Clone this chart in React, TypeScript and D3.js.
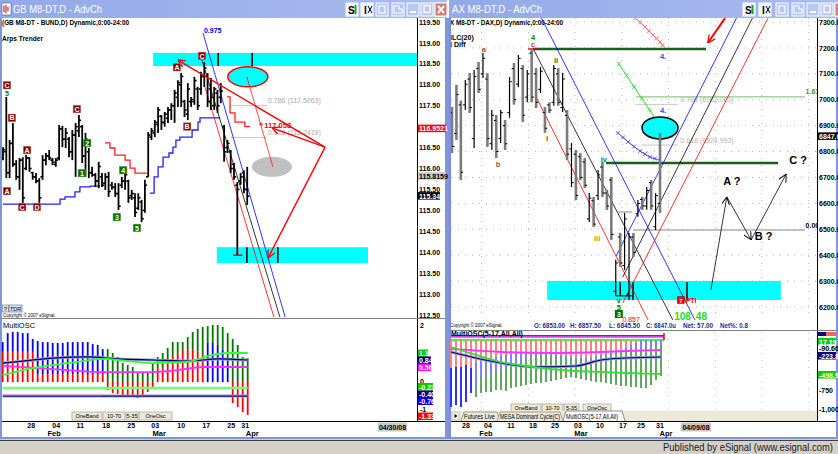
import React from "react";
import * as d3 from "d3";

/* ---------------- data: Bund (left window) ---------------- */
const bundHigh = [116.51,117.71,116.68,117.09,116.2,116.25,116.27,116.32,116.27,115.92,115.89,115.77,116.32,116.37,116.44,116.25,116.25,117.04,117.02,116.97,116.75,116.92,117.09,117.28,117.04,116.85,116.49,116.04,115.89,116.16,115.89,115.89,115.92,115.68,115.65,115.65,115.8,115.89,115.73,115.49,115.41,115.41,115.25,115.73,116.87,116.97,117.16,117.47,117.28,117.35,117.47,117.56,117.88,118.11,118.28,117.64,118.04,117.71,118.19,117.95,118.31,118.54,118.28,118.16,117.95,117.88,118.04,117.04,116.68,116.44,116.13,115.68,115.89,115.96,116.04];
const bundLow = [116.2,115.77,115.77,116.04,115.73,115.49,115.18,115.96,115.92,115.73,115.65,115.18,115.73,116.08,116.2,116.08,116.04,116.2,116.51,116.49,116.27,116.2,115.8,116.75,116.13,115.8,115.77,115.8,115.56,115.53,115.56,115.49,115.32,115.49,115.32,115.01,115.53,115.49,115.18,115.25,114.84,115.01,114.72,114.94,115.8,116.68,116.75,116.85,116.92,117.0,117.09,117.16,117.09,117.47,117.47,117.23,117.16,117.47,117.52,117.4,117.76,117.95,117.47,117.4,117.4,117.33,117.56,116.16,116.37,115.89,115.73,113.93,115.61,115.41,115.13];
const bundOpen = [116.25,116.4,115.9,116.6,116.1,115.8,116.2,116.0,116.25,115.9,115.8,115.7,115.8,116.2,116.3,116.2,116.1,116.25,116.95,116.7,116.7,116.4,116.8,116.9,117.0,116.3,116.4,115.9,115.85,115.7,115.8,115.65,115.8,115.6,115.55,115.4,115.6,115.7,115.7,115.35,115.3,115.05,115.2,115.0,115.8,116.75,116.85,117.05,117.25,117.1,117.2,117.4,117.5,117.7,118.0,117.6,117.3,117.6,117.6,117.9,117.9,118.2,118.2,117.9,117.5,117.8,117.7,117.0,116.5,116.4,116.1,115.6,115.7,115.9,115.5];
const bundClose = [116.45,115.9,116.6,116.1,115.8,116.2,115.3,116.25,116.0,115.8,115.7,115.3,116.2,116.3,116.25,116.15,116.2,116.95,116.7,116.85,116.4,116.8,117.0,117.15,116.3,116.7,115.9,115.85,115.7,116.05,115.6,115.8,115.45,115.55,115.4,115.1,115.7,115.85,115.3,115.4,114.95,115.3,114.8,115.6,116.8,116.9,117.1,117.4,117.1,117.3,117.4,117.5,117.8,118.05,118.2,117.4,117.9,117.65,118.1,117.5,118.2,118.4,117.6,117.7,117.9,117.5,117.85,116.4,116.6,116.0,115.8,115.5,115.8,115.5,115.34];
/* 117.00 is hidden behind the red last-value box in the reference */
const bundTicks = [112.5,113,113.5,114,114.5,115,115.5,116,116.5,117.5,118,118.5,119,119.5];

/* Arps trender steps [barIndex, price] */
const arpsRed1 = [[30.9,116.61],[32.4,116.49],[33.9,116.32],[37,116.2],[38.5,116.01],[40,115.89],[43.6,115.89]];
const arpsRed2 = [[67.9,117.71],[68.8,117.33],[70.3,117.11],[73.3,117.0],[74.8,117.0]];
const arpsBlue1 = [[0,115.15],[17.3,115.27],[18.8,115.32],[21.8,115.44],[23.3,115.56],[26.4,115.58],[29.4,115.58]];
const arpsBlue2 = [[44.5,115.41],[45.8,115.8],[47,116.04],[48.5,116.27],[50.3,116.37],[51.5,116.51],[52.4,116.68],[53.6,116.75],[57.3,116.92],[59.1,117.11],[59.7,117.21],[65.8,117.21]];

/* Elliott / ABC labels on the Bund [barIndex, price, text, kind] */
const bundLabels = [
  [1.2,117.99,"C","r"],[2.7,117.21,"B","r"],[1.2,115.46,"A","r"],[5.8,115.08,"C","r"],[7.3,116.44,"A","r"],
  [10.3,115.08,"D","r"],[22.4,117.42,"C","r"],[25.5,116.61,"2","g"],[23.9,115.89,"1","g"],[34.5,114.84,"3","g"],
  [36.4,115.96,"4","g"],[40.6,114.58,"5","g"],[52.7,118.42,"A","r"],[55.8,117.0,"B","r"],[60.3,118.69,"C","r"],
];
const bundFib = [[117.5063,"0.786 (117.5063)"],[116.7419,"0.618 (116.7419)"]];

/* oscillator (left) */
const lOscTop = [1.39,1.71,1.75,1.75,1.71,1.71,1.5,1.43,1.39,1.39,1.36,1.36,1.36,1.39,1.39,1.39,1.39,1.39,1.32,1.29,1.14,1.14,1.0,0.86,0.64,0.57,0.5,0.32,0.32,0.32,0.64,0.86,1.0,1.18,1.39,1.39,1.39,1.57,1.75,1.86,1.93,1.96,2.0,2.0,1.93,1.71,1.5,1.29,0.86,0.82];
const lOscMid = [1.04,1.04,1.04,1.04,1.04,1.04,1.04,0.25,0.25,0.25,0.25,0.25,0.25,0.25,0.25,0.25,0.25,0.25,0.25,0.25,0.25,0,0,0,0,0,0,0,0,0,0,0.46,0.46,0.68,0.93,1.0,1.11,1.11,1.11,1.04,0.93,1.36,1.36,1.29,1.11,0.86,0,0,0,0];
const lOscBot = [-0.04,-0.04,-0.04,-0.04,-0.04,-0.04,-0.04,-0.04,-0.04,-0.04,-0.04,-0.04,-0.04,-0.04,-0.04,-0.04,-0.04,-0.04,-0.04,-0.04,-0.04,-0.32,-0.43,-0.46,-0.5,-0.54,-0.57,-0.61,-0.5,-0.39,-0.25,-0.04,-0.04,-0.04,-0.04,-0.04,-0.04,-0.04,-0.04,-0.04,-0.04,-0.04,-0.04,-0.04,-0.04,-0.04,-0.79,-0.93,-1.11,-1.21];
const lOscUpperTone = "bbbbbbbbbbbbbbbbbbbbbggggggggggggggggggggggggggggg";
const lOscLowerTone = "rrrrrrrrrrrrrrrrrrrrrrrrrrrrrrrrrrrrrrrrrbbbbbrrrr";
const lOscGreen = [[0,0.21],[4,0.39],[10,0.57],[15,0.68],[20,0.79],[25,0.71],[30,0.64],[37,0.68],[41,0.89],[45,1.0],[49,1.0]];
const lOscNavy = [[0,0.64],[4,0.71],[10,0.82],[17,0.86],[23,0.79],[30,0.75],[37,0.71],[43,0.79],[49,0.75]];
const lOscMagenta = [[0,0.54],[7,0.46],[13,0.39],[20,0.32],[30,0.32],[35,0.39],[40,0.5],[49,0.5]];
const lOscBands = [-0.25, -0.54];

/* ---------------- data: DAX (right window) ---------------- */
const daxHigh = [6972,7057,6997,7076,7103,7115,7146,7180,7103,6960,6941,6960,6922,7088,7142,7173,7134,7115,7200,7122,7126,6972,6990,7134,7122,7103,6960,6833,6806,6794,6775,6640,6625,6729,6760,6652,6702,6382,6486,6563,6486,6486,6613,6625,6663,6690,6640,6872];
const daxLow = [6794,6845,6690,6960,6949,6814,7026,7084,6818,6806,6775,6833,6806,6930,6981,7049,6914,6990,6990,6968,7026,6872,6949,6977,6977,6953,6767,6663,6613,6690,6659,6528,6509,6613,6625,6575,6459,6243,6355,6343,6227,6393,6548,6575,6575,6575,6497,6563];
const daxOpen = [6950,6870,6980,6980,7080,6850,7120,7100,7080,6830,6920,6850,6900,6950,7120,7060,7120,7010,7180,7100,7040,6950,6980,6990,7100,6970,6940,6810,6790,6780,6760,6540,6610,6630,6740,6640,6690,6260,6470,6360,6250,6470,6560,6615,6590,6680,6510,6600];
const daxClose = [6820,7020,6720,7060,6970,7090,7040,7160,6850,6940,6800,6950,6830,7070,7000,7160,6940,7100,7010,6990,7110,6890,6960,7120,6990,7080,6790,6680,6630,6700,6670,6620,6520,6710,6640,6590,6480,6370,6370,6540,6470,6410,6600,6590,6650,6590,6630,6847];
const daxTone = [1,1,1,0,1,0,1,0,1,0,1,0,1,0,1,0,1,0,1,1,0,1,1,0,1,0,1,0,1,1,1,0,1,0,1,1,1,0,1,0,0,1,0,1,0,1,0,1];
const daxTicks = [6200,6300,6400,6500,6600,6700,6800,6900,7000,7100,7200,7300];
const daxGridPos = [6.7,17.3,27.8,38.4,48.9,59.5,70,80.6];

const daxLabels = [
  [7.2,7196,"a","#a0522d"],[10.4,6752,"b","#a0522d"],[18.3,7242,"4","#008000"],[18.3,7215,"c","#c04020"],
  [23.5,7153,"ii","#008000"],[21.5,6852,"i","#008000"],[32.8,6466,"iii","#b0a000"],[34.3,6771,"iv","#008080"],
  [37.7,6227,"v","#008000"],[37.7,6200,"5","#008000"],
];
/* channel lines [i1,p1,i2,p2,color] */
const daxChannels = [
  [20.1,7319,54.9,6150,"#0000ff"],[18.5,7192,49.9,6150,"#000000"],[18.8,7018,44.3,6150,"#ff0000"],
  [37.1,6397,64.4,7319,"#0000ff"],[38.6,6316,68,7319,"#000000"],[38.6,6216,71.4,7315,"#ff0000"],
];
const daxPinkArc = [[41.4,7315],[43.6,7281],[45.4,7250],[47,7223],[48.1,7200]];
const daxBlueArc = [[37.5,6872],[39.8,6837],[42.5,6802],[44.7,6779],[47,6767]];
const daxGreenRay = [[37.7,7138],[48.1,6872]];
const daxPath = [[58.5,6266],[62.1,6625],[67.6,6459],[75.5,6713]];
const daxFib = [[6982.061,"0.786 (6982.061)",41.4],[6824.993,"0.618 (6824.993)",42.7]];

/* oscillator (right) */
const rOscCeil = -92;
const rOscRed = [-461,-447,-447,-421,-461,-382,-355,-355,-329,-316,-303,-289,-276,-263,-263,-250,-250,-237,-250,-250,-263,-276,-289,-303,-316,-329,-329,-329,-316,-303,-289,-276,-263,-250,-224,-197,-158,-131,-92,-92,-92,-92,-92];
const rOscBlue = [-974,-947,-974,-908,-789,-684,-592,-566,-539,-513,-487,-461,-434,-408,-382,-355,-329,-316,-303,-289,-289,-303,-316,-329,-342,-355,-355,-355,-342,-329,-316,-303,-289,-276,-263,-250,-237,-224,-224,-197,-184,-171,-171];
const rOscGreen = [-974,-947,-974,-908,-789,-842,-789,-776,-776,-750,-750,-763,-724,-711,-697,-684,-671,-658,-658,-645,-632,-618,-605,-592,-579,-592,-605,-618,-632,-645,-645,-658,-671,-684,-697,-697,-711,-711,-724,-724,-684,-618,-566];
const rOscNavy = [[0,-250],[10,-395],[17,-447],[25,-434],[30,-355],[35,-329],[42,-316]];
const rOscGreenLine = [[0,-184],[5,-289],[10,-382],[15,-434],[20,-474],[25,-500],[30,-513],[35,-526],[42,-539]];
const rOscMagenta = [[0,-210],[10,-250],[20,-263],[30,-250],[35,-237],[42,-224]];
const rOscBands = [[-39,"#000080"],[-52,"#ff40ff"],[-92,"#40ff40"]];

/* date axes */
const dateLabels = ["28","04","11","18","25","03","10","17","25","31"];
const monthLabels = ["Feb","Mar","Apr"];
const bundDatePos = [5.7,10.7,15.5,20.7,25.7,30.5,35.7,40.7,45.7,48.5];
const bundMonthPos = [10.3,31.3,49.9];
const daxDatePos = [3,7.4,12,16.4,20.8,25.4,29.8,34.4,38,41.8];
const daxMonthPos = [7,26,43];

const FONT = "'Liberation Sans', Arial, sans-serif";

function TitleButtons({ xs }: { xs: number[] }) {
  const kinds = ["S", "I", "w1", "w2", "min", "max", "x"];
  return (
    <g>
      {xs.map((x, k) => {
        const kind = kinds[k];
        const light = kind === "S" || kind === "I";
        return (
          <g key={k}>
            <rect x={x} y={3} width={12} height={13} fill={light ? "#f4f6ff" : "#b7c6f2"} stroke="#ffffff" strokeWidth={1} />
            {kind === "S" && <text x={x + 2} y={13.5} fontFamily={FONT} fontWeight="bold" fontSize={10} fill="#000">S</text>}
            {kind === "S" && <rect x={x + 8.5} y={5} width={2} height={9} fill="#20a020" />}
            {kind === "I" && <text x={x + 3} y={13.5} fontFamily={FONT} fontWeight="bold" fontSize={10} fill="#000">I</text>}
            {kind === "I" && <path d={`M${x + 7},6 l4,7 M${x + 11},6 l-4,7`} stroke="#000" strokeWidth={1} />}
            {kind === "w1" && <rect x={x + 3} y={6} width={6} height={7} fill="none" stroke="#fff" strokeWidth={1.2} />}
            {kind === "w2" && <path d={`M${x + 2},6 h5 v3 h3 v4 h-8 z`} fill="none" stroke="#fff" strokeWidth={1.2} />}
            {kind === "min" && <rect x={x + 3} y={11} width={6} height={2} fill="#fff" />}
            {kind === "max" && <rect x={x + 3} y={5.5} width={6} height={7} fill="none" stroke="#fff" strokeWidth={1.5} />}
            {kind === "x" && <rect x={x} y={3} width={12} height={13} fill="#d27b6e" stroke="#fff" />}
            {kind === "x" && <path d={`M${x + 3},6 l6,7 M${x + 9},6 l-6,7`} stroke="#fff" strokeWidth={2} />}
          </g>
        );
      })}
    </g>
  );
}

function Btn({ x, y, w, label }: { x: number; y: number; w: number; label: string }) {
  return (
    <g>
      <rect x={x} y={y} width={w} height={8} fill="#ece9d8" stroke="#a8a8a0" strokeWidth={0.8} />
      <text x={x + w / 2} y={y + 6} textAnchor="middle" fontFamily={FONT} fontSize={5.5} fill="#000">{label}</text>
    </g>
  );
}

function AxisBox({ x, y, w, text, bg, fg }: { x: number; y: number; w: number; text: string; bg: string; fg: string }) {
  return (
    <g>
      <rect x={x} y={y - 4} width={w} height={7.5} fill={bg} />
      <text x={x + 1} y={y + 2.6} fontFamily={FONT} fontWeight="bold" fontSize={7} fill={fg}>{text}</text>
    </g>
  );
}

export default function App() {
  const xL = d3.scaleLinear().domain([0, 74]).range([3, 247.2]);
  const yL = d3.scaleLinear().domain([112.5, 119.5]).range([315, 22]);
  const xR = d3.scaleLinear().domain([0, 47]).range([452, 660]);
  const yR = d3.scaleLinear().domain([6200, 7300]).range([307, 22]);
  const xLO = d3.scaleLinear().domain([0, 49]).range([2.7, 247.7]);
  const yLO = d3.scaleLinear().domain([0, 2]).range([381, 325]);
  const xRO = d3.scaleLinear().domain([0, 42]).range([451, 661]);
  const yRO = d3.scaleLinear().domain([-1000, -750]).range([409, 390]);

  const stepL = d3.line<number[]>().x((d) => xL(d[0])).y((d) => yL(d[1])).curve(d3.curveStepAfter);
  const lineL = d3.line<number[]>().x((d) => xL(d[0])).y((d) => yL(d[1]));
  const lineR = d3.line<number[]>().x((d) => xR(d[0])).y((d) => yR(d[1]));
  const curveR = d3.line<number[]>().x((d) => xR(d[0])).y((d) => yR(d[1])).curve(d3.curveCatmullRom);
  const lineLO = d3.line<number[]>().x((d) => xLO(d[0])).y((d) => yLO(d[1])).curve(d3.curveMonotoneX);
  const lineRO = d3.line<number[]>().x((d) => xRO(d[0])).y((d) => yRO(d[1])).curve(d3.curveMonotoneX);

  const oscColL: Record<string, string> = { b: "#0000ff", g: "#007800", r: "#ff0000" };

  const crossMarks = (pts: number[][], n: number, color: string, key: string) => {
    const px = pts.map((p) => [xR(p[0]), yR(p[1])]);
    const out: any[] = [];
    for (let s = 0; s < px.length - 1; s++) {
      const [x1, y1] = px[s], [x2, y2] = px[s + 1];
      for (let k = 0; k < n; k++) {
        const t = k / n;
        const cx = x1 + (x2 - x1) * t, cy = y1 + (y2 - y1) * t;
        out.push(<path key={`${key}${s}-${k}`} d={`M${cx - 2},${cy - 2} l4,4 M${cx + 2},${cy - 2} l-4,4`} stroke={color} strokeWidth={0.8} />);
      }
    }
    return out;
  };

  const P = { x: 97.6, p: 116.51 };

  return (
    <svg width={838} height={454} viewBox="0 0 838 454" style={{ position: "absolute", left: 0, top: 0, background: "#ffffff" }} fontFamily={FONT}>
      <defs>
        <linearGradient id="tb" x1="0" y1="0" x2="1" y2="0">
          <stop offset="0" stopColor="#93a9e8" />
          <stop offset="1" stopColor="#a9bbee" />
        </linearGradient>
        <clipPath id="clipL"><rect x={2} y={18} width={415} height={300} /></clipPath>
        <clipPath id="clipR"><rect x={451} y={18} width={366} height={311} /></clipPath>
        <marker id="ahRed" viewBox="0 0 10 10" refX="10" refY="5" markerWidth="8" markerHeight="8" markerUnits="userSpaceOnUse" orient="auto">
          <path d="M0,0 L10,5 L0,10" fill="none" stroke="#ff0000" strokeWidth="1.6" />
        </marker>
        <marker id="ahBlack" viewBox="0 0 10 10" refX="10" refY="5" markerWidth="8" markerHeight="8" markerUnits="userSpaceOnUse" orient="auto">
          <path d="M0,0 L10,5 L0,10" fill="none" stroke="#000" strokeWidth="1.2" />
        </marker>
      </defs>

      {/* ---------- window chrome ---------- */}
      <rect x={0} y={0} width={838} height={454} fill="#ffffff" />
      <rect x={0} y={0} width={447} height={18} fill="url(#tb)" />
      <rect x={449} y={0} width={389} height={18} fill="url(#tb)" />
      <rect x={2} y={3} width={9} height={12} fill="#fff" stroke="#50607f" strokeWidth={0.6} />
      <path d="M4,12 v-6 M6,13 v-8 M8,11 v-4" stroke="#c00000" strokeWidth={1} />
      <text x={13} y={13} fontSize={11} fill="#ffffff" textLength={89} lengthAdjust="spacingAndGlyphs">GB M8-DT,D - AdvCh</text>
      <text x={452} y={13} fontSize={11} fill="#ffffff" textLength={90} lengthAdjust="spacingAndGlyphs">AX M8-DT,D - AdvCh</text>
      <TitleButtons xs={[346, 361, 376, 392, 407, 421, 435]} />
      <TitleButtons xs={[743, 759, 776, 792, 807, 821, 835]} />

      {/* frames */}
      <rect x={0} y={18} width={2} height={421} fill="#8195dc" />
      <rect x={445} y={18} width={4} height={421} fill="#8195dc" />
      <rect x={449} y={18} width={2} height={421} fill="#7b8fe0" />
      <rect x={836} y={18} width={2} height={421} fill="#8195dc" />
      <rect x={0} y={437} width={838} height={2} fill="#8195dc" />
      <rect x={0} y={439} width={838} height={15} fill="#d4d0c8" />
      <line x1={0} x2={838} y1={440.5} y2={440.5} stroke="#404040" strokeWidth={1} />
      <text x={833} y={451} textAnchor="end" fontSize={11} fill="#1a1a1a" textLength={170} lengthAdjust="spacingAndGlyphs">Published by eSignal (www.esignal.com)</text>

      {/* ================= LEFT WINDOW ================= */}
      <line x1={417.5} x2={417.5} y1={18} y2={421} stroke="#000" strokeWidth={1} />
      <line x1={2} x2={445} y1={318.5} y2={318.5} stroke="#808080" strokeWidth={1} />
      <line x1={2} x2={445} y1={421.5} y2={421.5} stroke="#000" strokeWidth={1} />

      {bundTicks.map((t) => (
        <text key={t} x={419} y={yL(t) + 2.6} fontSize={7} fontWeight="bold" fill="#000">{t.toFixed(2)}</text>
      ))}
      <AxisBox x={418} y={yL(116.9521)} w={28} text="116.9521" bg="#ff0000" fg="#fff" />
      <AxisBox x={418} y={yL(115.8159)} w={28} text="115.8159" bg="#c8c8c8" fg="#000" />
      <AxisBox x={418} y={yL(115.34)} w={22} text="115.34" bg="#000" fg="#fff" />

      <g clipPath="url(#clipL)">
        <text x={2} y={25} fontSize={7.5} fontWeight="bold" fill="#000" textLength={127} lengthAdjust="spacingAndGlyphs">(GB M8-DT - BUND,D) Dynamic,0:00-24:00</text>
        <text x={2} y={41} fontSize={7.5} fontWeight="bold" fill="#000" textLength={41} lengthAdjust="spacingAndGlyphs">Arps Trender</text>

        <rect x={xL(45.5)} y={yL(118.76)} width={417 - xL(45.5)} height={yL(118.45) - yL(118.76)} fill="#00ffff" />
        <rect x={xL(64.8)} y={yL(114.12)} width={xL(110.6) - xL(64.8)} height={yL(113.74) - yL(114.12)} fill="#00ffff" />
        {[65.2, 75.5].map((i) => <line key={i} x1={xL(i)} x2={xL(i)} y1={yL(118.76)} y2={yL(118.45)} stroke="#000" strokeWidth={1.5} />)}
        {[73.9, 83.3].map((i) => <line key={i} x1={xL(i)} x2={xL(i)} y1={yL(114.12)} y2={yL(113.74)} stroke="#000" strokeWidth={1.5} />)}

        {bundFib.map(([v, s]) => (
          <g key={s as string}>
            <line x1={xL(68.8)} x2={xL(80)} y1={yL(v as number)} y2={yL(v as number)} stroke="#c8c8c8" strokeWidth={1} />
            <text x={xL(80.3)} y={yL(v as number) - 2} fontSize={7} fill="#a8a8a8">{s}</text>
          </g>
        ))}

        <path d={stepL(arpsRed1) || ""} fill="none" stroke="#ff2020" strokeWidth={1.3} />
        <path d={stepL(arpsRed2) || ""} fill="none" stroke="#ff2020" strokeWidth={1.3} />
        <path d={stepL(arpsBlue1) || ""} fill="none" stroke="#2020ff" strokeWidth={1.3} />
        <path d={stepL(arpsBlue2) || ""} fill="none" stroke="#2020ff" strokeWidth={1.3} />

        <path d={lineL([[60.6, 119.24], [85.5, 112.45]]) || ""} stroke="#0000ff" strokeWidth={0.8} fill="none" />
        <path d={lineL([[60.3, 118.59], [83.9, 112.45]]) || ""} stroke="#000" strokeWidth={0.8} fill="none" />
        <path d={lineL([[61.2, 117.95], [82.1, 112.45]]) || ""} stroke="#ff0000" strokeWidth={0.8} fill="none" />
        <text x={xL(60.9)} y={yL(119.24)} fontSize={7} fontWeight="bold" fill="#0000ff">0.975</text>

        <ellipse cx={xL(74.2)} cy={yL(118.19)} rx={20} ry={10} fill="#00ffff" stroke="#ff0000" strokeWidth={1.5} />
        <ellipse cx={xL(81.5)} cy={yL(116.04)} rx={20} ry={10} fill="#c0c0c0" />
        <path d={lineL([[73.9, 118.19], [81.8, 116.04]]) || ""} stroke="#ff0000" strokeWidth={0.7} fill="none" />

        {bundHigh.map((h, i) => {
          const x = xL(i);
          return (
            <g key={i}>
              <line x1={x} x2={x} y1={yL(h)} y2={yL(bundLow[i])} stroke="#000" strokeWidth={1.8} />
              <line x1={x - 2.2} x2={x} y1={yL(bundOpen[i])} y2={yL(bundOpen[i])} stroke="#000" strokeWidth={1.6} />
              <line x1={x} x2={x + 2.2} y1={yL(bundClose[i])} y2={yL(bundClose[i])} stroke="#000" strokeWidth={1.6} />
            </g>
          );
        })}
        <line x1={xL(71) - 4} x2={xL(71) + 5} y1={yL(113.93)} y2={yL(113.93)} stroke="#ff0000" strokeWidth={1.5} />

        <path d={lineL([[P.x, P.p], [53, 118.59]]) || ""} stroke="#ff0000" strokeWidth={1.4} fill="none" markerEnd="url(#ahRed)" />
        <path d={lineL([[P.x, P.p], [81.5, 116.97]]) || ""} stroke="#ff0000" strokeWidth={1.4} fill="none" markerEnd="url(#ahRed)" />
        <path d={lineL([[P.x, P.p], [80.3, 113.86]]) || ""} stroke="#ff0000" strokeWidth={1.4} fill="none" markerEnd="url(#ahRed)" />
        <text x={xL(79.2)} y={yL(117.058) + 4} fontSize={7.5} fontWeight="bold" fill="#ff0000">117.058</text>
        <path d={`M${xL(78.2) - 2},${yL(117.058)} h4 M${xL(78.2)},${yL(117.058) - 2} v4`} stroke="#ff0000" strokeWidth={0.8} />

        {bundLabels.map(([i, p, s, k], n) => (
          <g key={n}>
            <rect x={xL(i as number) - 3.8} y={yL(p as number) - 3.8} width={7.6} height={7.6} fill={k === "r" ? "#800000" : "#007000"} stroke={k === "r" ? "#c08080" : "#60a060"} strokeWidth={0.5} />
            <text x={xL(i as number)} y={yL(p as number) + 2.6} textAnchor="middle" fontSize={7} fontWeight="bold" fill="#fff">{s}</text>
          </g>
        ))}
        <text x={xL(1.2)} y={yL(117.8) + 3} textAnchor="middle" fontSize={7} fontWeight="bold" fill="#008000">5</text>

        <rect x={2.5} y={305} width={6} height={7} fill="#e0e0e0" stroke="#606060" strokeWidth={0.5} />
        <text x={3.8} y={311} fontSize={6} fill="#000">?</text>
        <rect x={9} y={305} width={13} height={7} fill="#e0e0e8" stroke="#404080" strokeWidth={0.5} />
        <text x={10} y={311} fontSize={5.5} fill="#000">TDR</text>
        <text x={3} y={317} fontSize={4.5} fill="#000">Copyright © 2007 eSignal.</text>
      </g>

      {/* left oscillator */}
      <text x={3} y={328} fontSize={7.5} fill="#000">MultiOSC</text>
      {lOscTop.map((t, i) => {
        const x = xLO(i);
        return (
          <g key={i}>
            <line x1={x} x2={x} y1={yLO(t)} y2={yLO(lOscMid[i])} stroke={oscColL[lOscUpperTone[i]]} strokeWidth={1.8} />
            <line x1={x} x2={x} y1={yLO(lOscMid[i])} y2={yLO(lOscBot[i])} stroke={oscColL[lOscLowerTone[i]]} strokeWidth={1.8} />
          </g>
        );
      })}
      <line x1={xLO(0)} x2={xLO(49)} y1={yLO(lOscBands[0])} y2={yLO(lOscBands[0])} stroke="#70ff70" strokeWidth={2.5} />
      <line x1={xLO(0)} x2={xLO(49)} y1={yLO(lOscBands[1])} y2={yLO(lOscBands[1])} stroke="#9090d0" strokeWidth={3} />
      <line x1={xLO(0)} x2={xLO(20)} y1={yLO(lOscBands[1]) - 0.5} y2={yLO(lOscBands[1]) - 0.5} stroke="#ff80ff" strokeWidth={1.5} />
      <line x1={xLO(0)} x2={xLO(49)} y1={yLO(lOscBands[1])} y2={yLO(lOscBands[1])} stroke="#000060" strokeWidth={1} />
      <path d={lineLO(lOscNavy) || ""} fill="none" stroke="#9a9ad8" strokeWidth={3} />
      <path d={lineLO(lOscNavy) || ""} fill="none" stroke="#000070" strokeWidth={1.2} />
      <path d={lineLO(lOscMagenta) || ""} fill="none" stroke="#ff30ff" strokeWidth={1.8} />
      <path d={lineLO(lOscGreen) || ""} fill="none" stroke="#30ff30" strokeWidth={1.8} />
      <Btn x={72} y={412} w={30} label="OneBand" />
      <Btn x={103} y={412} w={22} label="10-70" />
      <Btn x={126} y={412} w={12} label="5-35" />
      <Btn x={139} y={412} w={33} label="OneOsc" />

      <text x={420} y={yLO(2) + 3} fontSize={7} fontWeight="bold" fill="#000">2</text>
      <AxisBox x={418} y={353.5} w={10} text="1.1" bg="#00d000" fg="#fff" />
      <AxisBox x={418} y={360.5} w={13} text="0.84" bg="#000080" fg="#fff" />
      <AxisBox x={418} y={367.5} w={13} text="0.56" bg="#ff00ff" fg="#fff" />
      <text x={420} y={yLO(0) + 2.5} fontSize={7} fontWeight="bold" fill="#000">0</text>
      <AxisBox x={418} y={387} w={15} text="-0.23" bg="#00d000" fg="#fff" />
      <AxisBox x={418} y={394.5} w={15} text="-0.40" bg="#000080" fg="#fff" />
      <AxisBox x={418} y={401.5} w={15} text="-0.76" bg="#0000ff" fg="#fff" />
      <text x={420} y={yLO(-1) + 2.5} fontSize={7} fontWeight="bold" fill="#000">-1</text>
      <AxisBox x={418} y={416.5} w={15} text="-1.33" bg="#ff0000" fg="#fff" />

      {dateLabels.map((s, k) => (
        <text key={k} x={xLO(bundDatePos[k])} y={428} textAnchor="middle" fontSize={7} fontWeight="bold" fill="#000">{s}</text>
      ))}
      {monthLabels.map((s, k) => (
        <text key={k} x={xLO(bundMonthPos[k])} y={436} textAnchor="middle" fontSize={7.5} fontWeight="bold" fill="#000">{s}</text>
      ))}
      <rect x={378} y={422.5} width={29} height={9} fill="#c8c8c8" />
      <text x={392.5} y={430} textAnchor="middle" fontSize={7} fontWeight="bold" fill="#000">04/30/08</text>

      {/* ================= RIGHT WINDOW ================= */}
      <line x1={817.5} x2={817.5} y1={18} y2={421} stroke="#000" strokeWidth={1} />
      <line x1={451} x2={836} y1={330.5} y2={330.5} stroke="#808080" strokeWidth={1} />
      <line x1={451} x2={836} y1={421.5} y2={421.5} stroke="#000" strokeWidth={1} />

      {daxTicks.map((t) => (
        <text key={t} x={819} y={yR(t) + 2.6} fontSize={7} fontWeight="bold" fill="#000">{t.toFixed(1)}</text>
      ))}
      <AxisBox x={818} y={yR(6847) - 3} w={20} text="6847.0" bg="#000" fg="#fff" />

      <g clipPath="url(#clipR)">
        {daxTicks.map((t) => (
          <line key={t} x1={451} x2={817} y1={yR(t)} y2={yR(t)} stroke="#b8b8b8" strokeWidth={1} strokeDasharray="1,6" />
        ))}
        {daxGridPos.map((g) => (
          <line key={g} x1={xR(g)} x2={xR(g)} y1={18} y2={317} stroke="#b8b8b8" strokeWidth={1} strokeDasharray="1,6" />
        ))}

        <text x={450} y={25} fontSize={7.5} fontWeight="bold" fill="#000" textLength={113} lengthAdjust="spacingAndGlyphs">X M8-DT - DAX,D) Dynamic,0:00-24:00</text>
        <text x={450} y={40} fontSize={7} fontWeight="bold" fill="#000">ILC(20)</text>
        <text x={450} y={47} fontSize={7} fontWeight="bold" fill="#000">I Diff</text>

        <rect x={xR(21.5)} y={yR(6300.5)} width={xR(74.3) - xR(21.5)} height={yR(6227) - yR(6300.5)} fill="#00ffff" />
        {[[38, 6296, 6243], [40.9, 6296, 6227], [53.1, 6296, 6227]].map(([i, a, b]) => (
          <line key={i} x1={xR(i)} x2={xR(i)} y1={yR(a)} y2={yR(b)} stroke="#000" strokeWidth={1.5} />
        ))}

        <line x1={xR(18.3)} x2={xR(57.4)} y1={yR(7196)} y2={yR(7196)} stroke="#1c5e1c" strokeWidth={2.5} />
        <line x1={xR(17.2)} x2={xR(19.2)} y1={yR(7196)} y2={yR(7196)} stroke="#ff0000" strokeWidth={1.5} />
        <line x1={xR(34.8)} x2={xR(73.7)} y1={yR(6756)} y2={yR(6756)} stroke="#1c5e1c" strokeWidth={2.5} />
        <line x1={xR(41.6)} x2={xR(79.8)} y1={yR(7011)} y2={yR(7011)} stroke="#70c070" strokeWidth={1} />
        <text x={xR(79.9)} y={yR(7011) - 3} fontSize={7} fontWeight="bold" fill="#409040">1.61</text>
        <line x1={xR(40.9)} x2={xR(79.8)} y1={yR(6497)} y2={yR(6497)} stroke="#b0b0b0" strokeWidth={1.5} />
        <text x={xR(79.9)} y={yR(6497) - 2} fontSize={7} fontWeight="bold" fill="#000">0.00</text>
        <line x1={xR(37.5)} x2={xR(40.7)} y1={yR(6567)} y2={yR(6567)} stroke="#b0b0b0" strokeWidth={1.5} />
        {daxFib.map(([v, s, i0]) => (
          <g key={s as string}>
            <line x1={xR(i0 as number)} x2={xR(51.1)} y1={yR(v as number)} y2={yR(v as number)} stroke="#c8c8c8" strokeWidth={1} />
            <text x={xR(51.6)} y={yR(v as number) - 2} fontSize={7} fill="#b4b4b4">{s}</text>
          </g>
        ))}

        {daxChannels.map(([a, b, c, d, col], k) => (
          <path key={k} d={lineR([[a as number, b as number], [c as number, d as number]]) || ""} stroke={col as string} strokeWidth={0.8} fill="none" />
        ))}

        {daxHigh.map((h, i) => {
          const x = xR(i);
          const gray = daxTone[i] === 1;
          return (
            <g key={i}>
              <line x1={x} x2={x} y1={yR(h)} y2={yR(daxLow[i])} stroke={gray ? "#7c7c7c" : "#000"} strokeWidth={gray ? 2.6 : 1.2} />
              <line x1={x - 2.3} x2={x} y1={yR(daxOpen[i])} y2={yR(daxOpen[i])} stroke="#000" strokeWidth={1} />
              <line x1={x} x2={x + 2.3} y1={yR(daxClose[i])} y2={yR(daxClose[i])} stroke="#000" strokeWidth={1} />
            </g>
          );
        })}
        <path d={`M${xR(37)},${yR(6243)} H${xR(40.9)}`} stroke="#000" strokeWidth={1} />

        <path d={curveR(daxPinkArc) || ""} stroke="#ff6060" strokeWidth={1} fill="none" />
        {crossMarks(daxPinkArc, 2, "#ff6060", "pa")}
        <path d={lineR(daxGreenRay) || ""} stroke="#30e030" strokeWidth={1} fill="none" />
        {crossMarks([daxGreenRay[0], [42.9, 7005], daxGreenRay[1]], 3, "#30e030", "gr")}
        <path d={curveR(daxBlueArc) || ""} stroke="#4040ff" strokeWidth={1} fill="none" />
        {crossMarks(daxBlueArc, 2, "#4040ff", "ba")}
        <ellipse cx={xR(47)} cy={yR(6891)} rx={18} ry={11} fill="#00ffff" stroke="#000" strokeWidth={1.5} />
        <line x1={xR(47)} x2={xR(47)} y1={yR(6872)} y2={yR(6840)} stroke="#7c7c7c" strokeWidth={2.6} />
        <text x={xR(47.7)} y={yR(7169) + 3} textAnchor="middle" fontSize={7.5} fontWeight="bold" fill="#4040ff">4.</text>
        <text x={xR(47.7)} y={yR(6960) + 3} textAnchor="middle" fontSize={7.5} fontWeight="bold" fill="#4040ff">4.</text>

        <path d={lineR([[61.7, 7315], [57.8, 7219]]) || ""} stroke="#ff0000" strokeWidth={2} fill="none" markerEnd="url(#ahRed)" />
        {daxPath.slice(1).map((p, k) => (
          <path key={k} d={lineR([daxPath[k], p]) || ""} stroke="#000" strokeWidth={0.8} fill="none" markerEnd="url(#ahBlack)" />
        ))}
        <text x={xR(61.3)} y={yR(6686) + 4} fontSize={11} fontWeight="bold" fill="#000">A ?</text>
        <text x={xR(68.4)} y={yR(6474) + 4} fontSize={11} fontWeight="bold" fill="#000">B ?</text>
        <text x={xR(76.2)} y={yR(6767) + 4} fontSize={11} fontWeight="bold" fill="#000">C ?</text>

        {daxLabels.map(([i, p, s, c], n) => (
          <text key={n} x={xR(i as number)} y={yR(p as number) + 3} textAnchor="middle" fontSize={7.5} fontWeight="bold" fill={c as string}>{s}</text>
        ))}
        <rect x={xR(37.7) - 4} y={yR(6173) - 4} width={8} height={8} fill="#007000" />
        <text x={xR(37.7)} y={yR(6173) + 3} textAnchor="middle" fontSize={7} fontWeight="bold" fill="#fff">3</text>
        <text x={xR(38.5)} y={yR(6150) + 2} fontSize={7} fill="#ff0000">0.857</text>
        <rect x={xR(51.7) - 3.5} y={yR(6227) - 3.5} width={7} height={7} fill="#ff0000" stroke="#800000" strokeWidth={0.5} />
        <text x={xR(51.7)} y={yR(6227) + 2.5} textAnchor="middle" fontSize={6} fontWeight="bold" fill="#fff">7</text>
        <text x={xR(52.8)} y={yR(6227) + 3} fontSize={7} fontWeight="bold" fill="#ff0000">PTI</text>
        <text x={xR(50.2)} y={yR(6158) + 2.5} fontSize={10} fontWeight="bold" fill="#20e020">108</text>
        <text x={xR(55.1)} y={yR(6158) + 2.5} fontSize={10} fontWeight="bold" fill="#20e020">48</text>

        <text x={450} y={327} fontSize={4.5} fill="#000">Copyright © 2007 eSignal.</text>
        <text x={534} y={328} fontSize={7} fontWeight="bold" fill="#1c2c9c" textLength={31} lengthAdjust="spacingAndGlyphs">O: 6853.00</text>
        <text x={570} y={328} fontSize={7} fontWeight="bold" fill="#1c2c9c" textLength={31} lengthAdjust="spacingAndGlyphs">H: 6857.50</text>
        <text x={609} y={328} fontSize={7} fontWeight="bold" fill="#1c2c9c" textLength={31} lengthAdjust="spacingAndGlyphs">L: 6845.50</text>
        <text x={646} y={328} fontSize={7} fontWeight="bold" fill="#1c2c9c" textLength={30} lengthAdjust="spacingAndGlyphs">C: 6847.0u</text>
        <text x={683} y={328} fontSize={7} fontWeight="bold" fill="#1c2c9c" textLength={30} lengthAdjust="spacingAndGlyphs">Net: 57.00</text>
        <text x={720} y={328} fontSize={7} fontWeight="bold" fill="#1c2c9c" textLength={28} lengthAdjust="spacingAndGlyphs">Net%: 0.8</text>
      </g>

      {/* right oscillator */}
      {daxGridPos.map((g) => (
        <line key={g} x1={xR(g)} x2={xR(g)} y1={332} y2={410} stroke="#c0c0c0" strokeWidth={1} strokeDasharray="1,6" />
      ))}
      {rOscBands.map(([v, c]) => (
        <line key={v as number} x1={xRO(0)} x2={xRO(42) + 3} y1={yRO(v as number)} y2={yRO(v as number)} stroke={c as string} strokeWidth={v === -92 ? 2.5 : 1.5} />
      ))}
      {rOscRed.map((r, i) => {
        const x = xRO(i);
        return (
          <g key={i}>
            <line x1={x} x2={x} y1={yRO(rOscCeil)} y2={yRO(r)} stroke="#ff8080" strokeWidth={2} />
            <line x1={x} x2={x} y1={yRO(r)} y2={yRO(rOscBlue[i])} stroke={i < 5 ? "#3030ff" : "#8080ff"} strokeWidth={2} />
            <line x1={x} x2={x} y1={yRO(rOscBlue[i])} y2={yRO(rOscGreen[i])} stroke="#60a860" strokeWidth={2} />
          </g>
        );
      })}
      <path d={lineRO(rOscNavy) || ""} fill="none" stroke="#9a9ad8" strokeWidth={3} />
      <path d={lineRO(rOscNavy) || ""} fill="none" stroke="#000070" strokeWidth={1.2} />
      <path d={lineRO(rOscMagenta) || ""} fill="none" stroke="#ff30ff" strokeWidth={1.8} />
      <path d={lineRO(rOscGreenLine) || ""} fill="none" stroke="#30e030" strokeWidth={1.8} />
      <line x1={xRO(42) + 3} x2={xRO(42) + 3} y1={333} y2={340} stroke="#ff0000" strokeWidth={1.5} />
      <text x={451} y={336} fontSize={7} fontWeight="bold" fill="#000">MultiOSC(5-17,All,All)</text>
      <Btn x={511} y={404} w={30} label="OneBand" />
      <Btn x={542} y={404} w={21} label="10-70" />
      <Btn x={564} y={404} w={15} label="5-35" />
      <Btn x={583} y={404} w={28} label="OneOsc" />

      <rect x={451} y={411} width={366} height={10} fill="#ece9d8" />
      <rect x={452} y={412} width={7} height={8} fill="#f4f2ea" stroke="#a0a0a0" strokeWidth={0.5} />
      <path d="M454.5,414 l3,2 l-3,2 z" fill="#000" />
      <path d="M461,421 l3,-9 h33 l3,9" fill="#ece9d8" stroke="#808080" strokeWidth={0.7} />
      <text x={464} y={419} fontSize={6.5} fill="#000" textLength={31} lengthAdjust="spacingAndGlyphs">Futures Live</text>
      <path d="M497,421 l3,-9 h60 l3,9" fill="#ece9d8" stroke="#808080" strokeWidth={0.7} />
      <text x={500} y={419} fontSize={6.5} fill="#000" textLength={60} lengthAdjust="spacingAndGlyphs">MESA Dominant Cycle(C)</text>
      <path d="M563,421 l3,-10 h56 l3,10" fill="#ffffff" stroke="#606060" strokeWidth={0.7} />
      <text x={566} y={419} fontSize={6.5} fill="#000" textLength={52} lengthAdjust="spacingAndGlyphs">MultiOSC(5-17,All,All)</text>

      <rect x={818} y={332} width={8} height={4} fill="#000080" />
      <rect x={826} y={332} width={10} height={4} fill="#ff6060" />
      <AxisBox x={818} y={342} w={18} text="17.19" bg="#00d000" fg="#fff" />
      <AxisBox x={818} y={348.5} w={18} text="-90.66" bg="#f0f0f0" fg="#000" />
      <AxisBox x={818} y={356} w={18} text="-223.8" bg="#000080" fg="#fff" />
      <AxisBox x={818} y={375} w={18} text="-498.9" bg="#00d000" fg="#fff" />
      <text x={819} y={yRO(-750) + 2.5} fontSize={7} fontWeight="bold" fill="#000">-750</text>
      <text x={819} y={yRO(-1000) + 2.5} fontSize={7} fontWeight="bold" fill="#000">-1,000</text>

      {dateLabels.map((s, k) => (
        <text key={k} x={xRO(daxDatePos[k])} y={428} textAnchor="middle" fontSize={7} fontWeight="bold" fill="#000">{s}</text>
      ))}
      {monthLabels.map((s, k) => (
        <text key={k} x={xRO(daxMonthPos[k])} y={436} textAnchor="middle" fontSize={7.5} fontWeight="bold" fill="#000">{s}</text>
      ))}
      <rect x={681} y={422.5} width={30} height={9} fill="#c8c8c8" />
      <text x={696} y={430} textAnchor="middle" fontSize={7} fontWeight="bold" fill="#000">04/09/08</text>
    </svg>
  );
}
